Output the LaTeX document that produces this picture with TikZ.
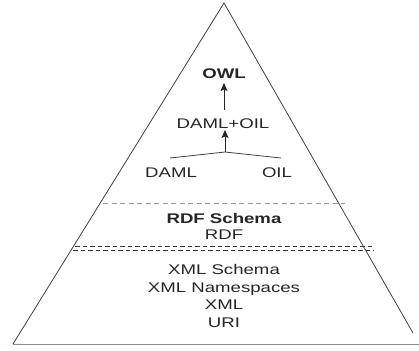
\documentclass[tikz,border=0pt]{standalone}
\usepackage{fontspec}
\setmainfont{Liberation Sans}[FakeStretch=1.33]
\usetikzlibrary{arrows.meta}

\begin{document}
\begin{tikzpicture}[x=1pt,y=-1pt,
    side/.style={draw=black!75, line width=0.8pt},
    baseline rule/.style={draw=black!45, line width=1pt},
    lightsplit/.style={draw=black!40, line width=0.9pt, dash pattern=on 5pt off 3.5pt},
    heavysplit/.style={draw=black!80, line width=0.9pt, dash pattern=on 4.5pt off 3pt},
    label/.style={inner sep=0pt, text height=10pt, text depth=0pt, text=black!85,
                  font=\fontsize{14}{17}\selectfont},
    boldlabel/.style={label, font=\fontsize{14}{17}\selectfont\bfseries},
    arr/.style={draw=black!85, line width=1pt, -{Stealth[length=8pt,width=7pt,inset=1.5pt]}},
    branch/.style={draw=black!75, line width=0.8pt}]

  \useasboundingbox (0,0) rectangle (419,350);

  % pyramid outline
  \coordinate (apex) at (224,3);
  \coordinate (bl) at (13,344);
  \coordinate (br) at (419,344);
  \draw[side] (bl) -- (apex) -- (413,333);
  \draw[baseline rule] (bl) -- (br);

  % layer separators
  \draw[lightsplit] (103,203) -- (345,203);
  \draw[heavysplit] (75,246.5) -- (372,246.5);
  \draw[heavysplit] (73,250) -- (374,250);

  % ontology languages
  \node[boldlabel] (owl) at (224,73) {OWL};
  \node[label] (daoil) at (223,123) {DAML+OIL};
  \node[label] (daml) at (171,172) {DAML};
  \node[label] (oil) at (277,172) {OIL};
  \coordinate (join) at (225,152);
  \coordinate (lend) at (170,158);
  \coordinate (rend) at (281,158);
  \coordinate (owltip) at (224,83);
  \coordinate (owltail) at (224,110);
  \coordinate (daoiltip) at (225,130);

  \draw[arr] (owltail) -- (owltip);
  \draw[arr] (join) -- (daoiltip);
  \draw[branch] (lend) -- (join) -- (rend);

  % RDF layer
  \node[boldlabel] (rdfs) at (224,218.5) {RDF Schema};
  \node[label] (rdf) at (224,234) {RDF};

  % XML layer
  \node[label] (xmls) at (224,269) {XML Schema};
  \node[label] (xmlns) at (224,287) {XML Namespaces};
  \node[label] (xml) at (224,304.5) {XML};
  \node[label] (uri) at (224,322) {URI};
\end{tikzpicture}
\end{document}
